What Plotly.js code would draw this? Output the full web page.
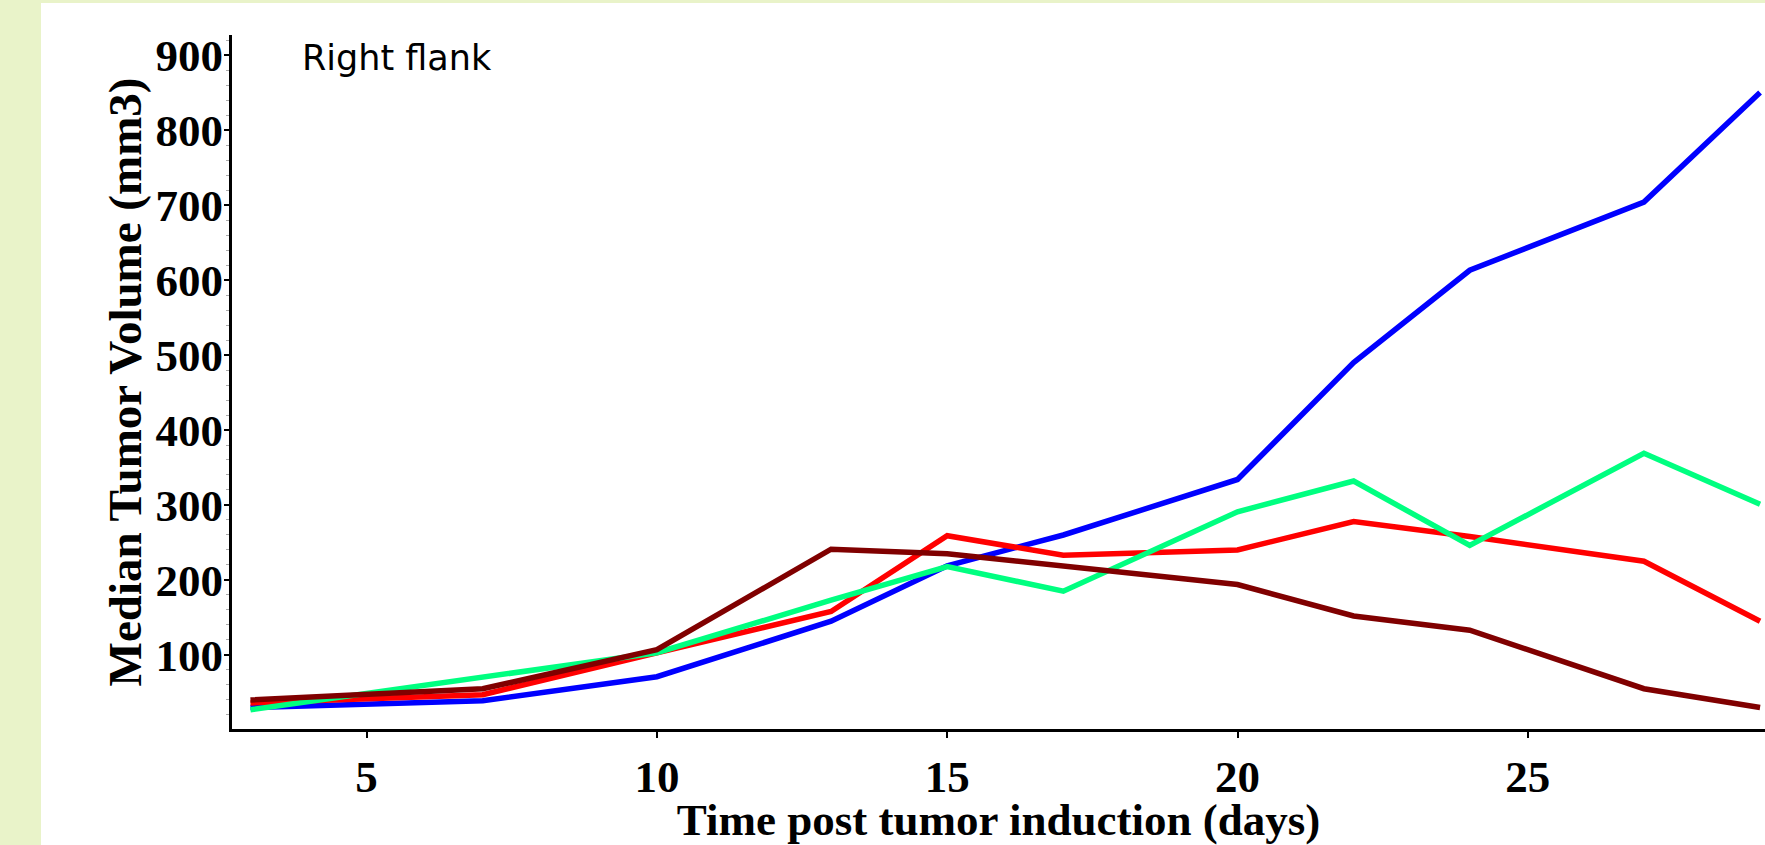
<!DOCTYPE html>
<html>
<head>
<meta charset="utf-8">
<script src="https://cdn.plot.ly/plotly-3.0.1.min.js"></script>
<style>
  html, body { margin: 0; padding: 0; background: #E9F3C9; width: 1765px; height: 845px; overflow: hidden; }
  #chart { position: absolute; left: 41px; top: 3px; width: 1724px; height: 842px; background: #ffffff; }
</style>
</head>
<body>
<div id="chart"></div>
<script>
// Days post tumor induction
const days = [3, 7, 10, 13, 15, 17, 20, 22, 24, 27, 29];
// Median tumor volume (mm3) per group
const blueSeries  = [30, 39, 71, 145, 219, 260, 334, 490, 613, 704, 850];
const redSeries   = [36, 47, 103, 158, 259, 233, 240, 278, 258, 225, 145];
const greenSeries = [27, 71, 103, 173, 218, 185, 291, 332, 246, 369, 301];
const brownSeries = [40, 55, 107, 241, 235, 219, 194, 152, 133, 55, 30];

const xTicks = [5, 10, 15, 20, 25];
const yTicks = [100, 200, 300, 400, 500, 600, 700, 800, 900];

const panelLabel = "Right flank";
const xTitle = "Time post tumor induction (days)";
const yTitle = "Median Tumor Volume (mm3)";

function series(y, color) {
  return { x: days, y: y, type: 'scatter', mode: 'lines',
           line: { color: color, width: 5.5 }, hoverinfo: 'x+y', showlegend: false };
}

const data = [
  series(blueSeries, '#0000FF'),
  series(redSeries, '#FF0000'),
  series(greenSeries, '#00FF80'),
  series(brownSeries, '#800000')
];

const serif = 'Liberation Serif, Times New Roman, serif';
const tickFont = { family: serif, size: 45, color: '#000000', weight: 'bold' };

const layout = {
  width: 1724, height: 842,
  margin: { l: 191, r: 0, t: 32, b: 116, pad: 0 },
  paper_bgcolor: '#ffffff',
  plot_bgcolor: '#ffffff',
  showlegend: false,
  xaxis: {
    range: [2.682, 29.085],
    tickvals: xTicks,
    ticktext: xTicks.map(String),
    ticks: 'outside', ticklen: 6, tickwidth: 2, tickcolor: '#000000',
    showline: true, linecolor: '#000000', linewidth: 3,
    showgrid: false, zeroline: false,
    tickfont: tickFont,
    title: { text: '<b>' + xTitle + '</b>', font: { family: serif, size: 45, color: '#000000' }, standoff: 4 }
  },
  yaxis: {
    range: [1.3, 926.7],
    tickvals: yTicks,
    ticktext: yTicks.map(String),
    ticks: 'outside', ticklen: 5, tickwidth: 2, tickcolor: '#000000',
    ticklabelstandoff: -8,
    minor: { dtick: 20, ticks: 'outside', ticklen: 3, tickwidth: 1, tickcolor: '#aaaaaa' },
    showline: true, linecolor: '#000000', linewidth: 3,
    showgrid: false, zeroline: false,
    tickfont: tickFont,
    title: { text: '<b>' + yTitle + '</b>', font: { family: serif, size: 47, color: '#000000' }, standoff: 0 }
  },
  annotations: [{
    text: panelLabel,
    xref: 'paper', yref: 'paper',
    x: (300 - 232) / 1533, y: (729 - 36) / 694,
    xanchor: 'left', yanchor: 'top',
    showarrow: false,
    font: { family: 'DejaVu Sans, sans-serif', size: 35, color: '#000000' }
  }]
};

Plotly.newPlot('chart', data, layout, { displayModeBar: false, staticPlot: true });
</script>
</body>
</html>
